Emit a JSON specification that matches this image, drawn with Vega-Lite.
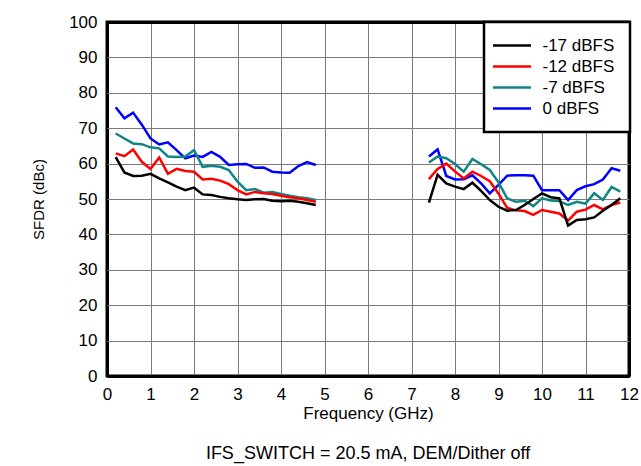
{
  "$schema": "https://vega.github.io/schema/vega-lite/v6.json",
  "autosize": "none",
  "width": 522,
  "height": 354,
  "padding": {"left": 107, "top": 22, "right": 12, "bottom": 90},
  "background": "white",
  "title": {"text": "IFS_SWITCH = 20.5 mA, DEM/Dither off", "orient": "bottom", "anchor": "middle", "font": "Liberation Sans", "fontSize": 18, "fontWeight": "normal", "color": "black", "offset": 24},
  "data": {"values": [
    {"f":0.2,"v":75.9,"s":"0 dBFS","g":"a"},{"f":0.4,"v":72.8,"s":"0 dBFS","g":"a"},{"f":0.6,"v":74.4,"s":"0 dBFS","g":"a"},{"f":0.8,"v":71.0,"s":"0 dBFS","g":"a"},{"f":1.0,"v":67.1,"s":"0 dBFS","g":"a"},{"f":1.2,"v":65.4,"s":"0 dBFS","g":"a"},{"f":1.4,"v":66.0,"s":"0 dBFS","g":"a"},{"f":1.6,"v":63.8,"s":"0 dBFS","g":"a"},{"f":1.8,"v":61.5,"s":"0 dBFS","g":"a"},{"f":2.0,"v":62.3,"s":"0 dBFS","g":"a"},{"f":2.2,"v":61.9,"s":"0 dBFS","g":"a"},{"f":2.4,"v":63.3,"s":"0 dBFS","g":"a"},{"f":2.6,"v":61.9,"s":"0 dBFS","g":"a"},{"f":2.8,"v":59.6,"s":"0 dBFS","g":"a"},{"f":3.0,"v":59.8,"s":"0 dBFS","g":"a"},{"f":3.2,"v":59.9,"s":"0 dBFS","g":"a"},{"f":3.4,"v":58.8,"s":"0 dBFS","g":"a"},{"f":3.6,"v":58.9,"s":"0 dBFS","g":"a"},{"f":3.8,"v":57.7,"s":"0 dBFS","g":"a"},{"f":4.0,"v":57.5,"s":"0 dBFS","g":"a"},{"f":4.2,"v":57.4,"s":"0 dBFS","g":"a"},{"f":4.4,"v":59.3,"s":"0 dBFS","g":"a"},{"f":4.6,"v":60.4,"s":"0 dBFS","g":"a"},{"f":4.8,"v":59.6,"s":"0 dBFS","g":"a"},
    {"f":0.2,"v":68.5,"s":"-7 dBFS","g":"a"},{"f":0.4,"v":67.1,"s":"-7 dBFS","g":"a"},{"f":0.6,"v":65.7,"s":"-7 dBFS","g":"a"},{"f":0.8,"v":65.5,"s":"-7 dBFS","g":"a"},{"f":1.0,"v":64.6,"s":"-7 dBFS","g":"a"},{"f":1.2,"v":64.3,"s":"-7 dBFS","g":"a"},{"f":1.4,"v":62.0,"s":"-7 dBFS","g":"a"},{"f":1.6,"v":61.9,"s":"-7 dBFS","g":"a"},{"f":1.8,"v":62.0,"s":"-7 dBFS","g":"a"},{"f":2.0,"v":63.8,"s":"-7 dBFS","g":"a"},{"f":2.2,"v":59.1,"s":"-7 dBFS","g":"a"},{"f":2.4,"v":59.4,"s":"-7 dBFS","g":"a"},{"f":2.6,"v":59.1,"s":"-7 dBFS","g":"a"},{"f":2.8,"v":58.2,"s":"-7 dBFS","g":"a"},{"f":3.0,"v":54.9,"s":"-7 dBFS","g":"a"},{"f":3.2,"v":52.5,"s":"-7 dBFS","g":"a"},{"f":3.4,"v":52.8,"s":"-7 dBFS","g":"a"},{"f":3.6,"v":51.8,"s":"-7 dBFS","g":"a"},{"f":3.8,"v":52.0,"s":"-7 dBFS","g":"a"},{"f":4.0,"v":51.4,"s":"-7 dBFS","g":"a"},{"f":4.2,"v":50.9,"s":"-7 dBFS","g":"a"},{"f":4.4,"v":50.5,"s":"-7 dBFS","g":"a"},{"f":4.6,"v":50.2,"s":"-7 dBFS","g":"a"},{"f":4.8,"v":49.7,"s":"-7 dBFS","g":"a"},
    {"f":0.2,"v":62.9,"s":"-12 dBFS","g":"a"},{"f":0.4,"v":62.1,"s":"-12 dBFS","g":"a"},{"f":0.6,"v":64.0,"s":"-12 dBFS","g":"a"},{"f":0.8,"v":60.5,"s":"-12 dBFS","g":"a"},{"f":1.0,"v":58.5,"s":"-12 dBFS","g":"a"},{"f":1.2,"v":61.7,"s":"-12 dBFS","g":"a"},{"f":1.4,"v":57.1,"s":"-12 dBFS","g":"a"},{"f":1.6,"v":58.5,"s":"-12 dBFS","g":"a"},{"f":1.8,"v":57.9,"s":"-12 dBFS","g":"a"},{"f":2.0,"v":57.7,"s":"-12 dBFS","g":"a"},{"f":2.2,"v":55.5,"s":"-12 dBFS","g":"a"},{"f":2.4,"v":55.7,"s":"-12 dBFS","g":"a"},{"f":2.6,"v":55.2,"s":"-12 dBFS","g":"a"},{"f":2.8,"v":54.2,"s":"-12 dBFS","g":"a"},{"f":3.0,"v":52.5,"s":"-12 dBFS","g":"a"},{"f":3.2,"v":51.3,"s":"-12 dBFS","g":"a"},{"f":3.4,"v":52.0,"s":"-12 dBFS","g":"a"},{"f":3.6,"v":51.6,"s":"-12 dBFS","g":"a"},{"f":3.8,"v":51.4,"s":"-12 dBFS","g":"a"},{"f":4.0,"v":50.9,"s":"-12 dBFS","g":"a"},{"f":4.2,"v":50.5,"s":"-12 dBFS","g":"a"},{"f":4.4,"v":50.2,"s":"-12 dBFS","g":"a"},{"f":4.6,"v":49.7,"s":"-12 dBFS","g":"a"},{"f":4.8,"v":49.2,"s":"-12 dBFS","g":"a"},
    {"f":0.2,"v":61.8,"s":"-17 dBFS","g":"a"},{"f":0.4,"v":57.5,"s":"-17 dBFS","g":"a"},{"f":0.6,"v":56.5,"s":"-17 dBFS","g":"a"},{"f":0.8,"v":56.6,"s":"-17 dBFS","g":"a"},{"f":1.0,"v":57.1,"s":"-17 dBFS","g":"a"},{"f":1.2,"v":55.8,"s":"-17 dBFS","g":"a"},{"f":1.4,"v":54.7,"s":"-17 dBFS","g":"a"},{"f":1.6,"v":53.5,"s":"-17 dBFS","g":"a"},{"f":1.8,"v":52.5,"s":"-17 dBFS","g":"a"},{"f":2.0,"v":53.2,"s":"-17 dBFS","g":"a"},{"f":2.2,"v":51.3,"s":"-17 dBFS","g":"a"},{"f":2.4,"v":51.1,"s":"-17 dBFS","g":"a"},{"f":2.6,"v":50.6,"s":"-17 dBFS","g":"a"},{"f":2.8,"v":50.2,"s":"-17 dBFS","g":"a"},{"f":3.0,"v":49.9,"s":"-17 dBFS","g":"a"},{"f":3.2,"v":49.7,"s":"-17 dBFS","g":"a"},{"f":3.4,"v":49.9,"s":"-17 dBFS","g":"a"},{"f":3.6,"v":50.0,"s":"-17 dBFS","g":"a"},{"f":3.8,"v":49.5,"s":"-17 dBFS","g":"a"},{"f":4.0,"v":49.4,"s":"-17 dBFS","g":"a"},{"f":4.2,"v":49.5,"s":"-17 dBFS","g":"a"},{"f":4.4,"v":49.2,"s":"-17 dBFS","g":"a"},{"f":4.6,"v":48.8,"s":"-17 dBFS","g":"a"},{"f":4.8,"v":48.3,"s":"-17 dBFS","g":"a"},
    {"f":7.4,"v":62.0,"s":"0 dBFS","g":"b"},{"f":7.6,"v":64.0,"s":"0 dBFS","g":"b"},{"f":7.8,"v":56.5,"s":"0 dBFS","g":"b"},{"f":8.0,"v":55.5,"s":"0 dBFS","g":"b"},{"f":8.2,"v":55.6,"s":"0 dBFS","g":"b"},{"f":8.4,"v":56.7,"s":"0 dBFS","g":"b"},{"f":8.6,"v":54.4,"s":"0 dBFS","g":"b"},{"f":8.8,"v":51.6,"s":"0 dBFS","g":"b"},{"f":9.0,"v":54.0,"s":"0 dBFS","g":"b"},{"f":9.2,"v":56.6,"s":"0 dBFS","g":"b"},{"f":9.4,"v":56.7,"s":"0 dBFS","g":"b"},{"f":9.6,"v":56.7,"s":"0 dBFS","g":"b"},{"f":9.8,"v":56.6,"s":"0 dBFS","g":"b"},{"f":10.0,"v":52.5,"s":"0 dBFS","g":"b"},{"f":10.2,"v":52.5,"s":"0 dBFS","g":"b"},{"f":10.4,"v":52.5,"s":"0 dBFS","g":"b"},{"f":10.6,"v":49.7,"s":"0 dBFS","g":"b"},{"f":10.8,"v":52.5,"s":"0 dBFS","g":"b"},{"f":11.0,"v":53.6,"s":"0 dBFS","g":"b"},{"f":11.2,"v":54.2,"s":"0 dBFS","g":"b"},{"f":11.4,"v":55.5,"s":"0 dBFS","g":"b"},{"f":11.6,"v":58.7,"s":"0 dBFS","g":"b"},{"f":11.8,"v":58.0,"s":"0 dBFS","g":"b"},
    {"f":7.4,"v":60.3,"s":"-7 dBFS","g":"b"},{"f":7.6,"v":62.0,"s":"-7 dBFS","g":"b"},{"f":7.8,"v":61.5,"s":"-7 dBFS","g":"b"},{"f":8.0,"v":59.9,"s":"-7 dBFS","g":"b"},{"f":8.2,"v":57.7,"s":"-7 dBFS","g":"b"},{"f":8.4,"v":61.3,"s":"-7 dBFS","g":"b"},{"f":8.6,"v":59.8,"s":"-7 dBFS","g":"b"},{"f":8.8,"v":58.2,"s":"-7 dBFS","g":"b"},{"f":9.0,"v":54.7,"s":"-7 dBFS","g":"b"},{"f":9.2,"v":50.2,"s":"-7 dBFS","g":"b"},{"f":9.4,"v":49.2,"s":"-7 dBFS","g":"b"},{"f":9.6,"v":49.5,"s":"-7 dBFS","g":"b"},{"f":9.8,"v":48.0,"s":"-7 dBFS","g":"b"},{"f":10.0,"v":50.2,"s":"-7 dBFS","g":"b"},{"f":10.2,"v":49.6,"s":"-7 dBFS","g":"b"},{"f":10.4,"v":49.4,"s":"-7 dBFS","g":"b"},{"f":10.6,"v":48.3,"s":"-7 dBFS","g":"b"},{"f":10.8,"v":49.2,"s":"-7 dBFS","g":"b"},{"f":11.0,"v":48.7,"s":"-7 dBFS","g":"b"},{"f":11.2,"v":51.6,"s":"-7 dBFS","g":"b"},{"f":11.4,"v":49.7,"s":"-7 dBFS","g":"b"},{"f":11.6,"v":53.4,"s":"-7 dBFS","g":"b"},{"f":11.8,"v":52.1,"s":"-7 dBFS","g":"b"},
    {"f":7.4,"v":55.6,"s":"-12 dBFS","g":"b"},{"f":7.6,"v":58.5,"s":"-12 dBFS","g":"b"},{"f":7.8,"v":60.0,"s":"-12 dBFS","g":"b"},{"f":8.0,"v":57.8,"s":"-12 dBFS","g":"b"},{"f":8.2,"v":55.8,"s":"-12 dBFS","g":"b"},{"f":8.4,"v":57.7,"s":"-12 dBFS","g":"b"},{"f":8.6,"v":56.5,"s":"-12 dBFS","g":"b"},{"f":8.8,"v":55.0,"s":"-12 dBFS","g":"b"},{"f":9.0,"v":51.5,"s":"-12 dBFS","g":"b"},{"f":9.2,"v":47.5,"s":"-12 dBFS","g":"b"},{"f":9.4,"v":46.8,"s":"-12 dBFS","g":"b"},{"f":9.6,"v":46.6,"s":"-12 dBFS","g":"b"},{"f":9.8,"v":45.5,"s":"-12 dBFS","g":"b"},{"f":10.0,"v":46.9,"s":"-12 dBFS","g":"b"},{"f":10.2,"v":46.4,"s":"-12 dBFS","g":"b"},{"f":10.4,"v":45.9,"s":"-12 dBFS","g":"b"},{"f":10.6,"v":43.9,"s":"-12 dBFS","g":"b"},{"f":10.8,"v":46.4,"s":"-12 dBFS","g":"b"},{"f":11.0,"v":47.0,"s":"-12 dBFS","g":"b"},{"f":11.2,"v":48.3,"s":"-12 dBFS","g":"b"},{"f":11.4,"v":47.1,"s":"-12 dBFS","g":"b"},{"f":11.6,"v":48.3,"s":"-12 dBFS","g":"b"},{"f":11.8,"v":49.0,"s":"-12 dBFS","g":"b"},
    {"f":7.4,"v":49.0,"s":"-17 dBFS","g":"b"},{"f":7.6,"v":56.8,"s":"-17 dBFS","g":"b"},{"f":7.8,"v":54.4,"s":"-17 dBFS","g":"b"},{"f":8.0,"v":53.5,"s":"-17 dBFS","g":"b"},{"f":8.2,"v":52.8,"s":"-17 dBFS","g":"b"},{"f":8.4,"v":54.6,"s":"-17 dBFS","g":"b"},{"f":8.6,"v":52.3,"s":"-17 dBFS","g":"b"},{"f":8.8,"v":49.7,"s":"-17 dBFS","g":"b"},{"f":9.0,"v":47.8,"s":"-17 dBFS","g":"b"},{"f":9.2,"v":46.7,"s":"-17 dBFS","g":"b"},{"f":9.4,"v":46.9,"s":"-17 dBFS","g":"b"},{"f":9.6,"v":48.3,"s":"-17 dBFS","g":"b"},{"f":9.8,"v":50.0,"s":"-17 dBFS","g":"b"},{"f":10.0,"v":51.6,"s":"-17 dBFS","g":"b"},{"f":10.2,"v":50.5,"s":"-17 dBFS","g":"b"},{"f":10.4,"v":50.2,"s":"-17 dBFS","g":"b"},{"f":10.6,"v":42.5,"s":"-17 dBFS","g":"b"},{"f":10.8,"v":44.1,"s":"-17 dBFS","g":"b"},{"f":11.0,"v":44.3,"s":"-17 dBFS","g":"b"},{"f":11.2,"v":44.8,"s":"-17 dBFS","g":"b"},{"f":11.4,"v":46.7,"s":"-17 dBFS","g":"b"},{"f":11.6,"v":48.3,"s":"-17 dBFS","g":"b"},{"f":11.8,"v":50.2,"s":"-17 dBFS","g":"b"}
  ]},
  "mark": {"type": "line", "strokeWidth": 2.5, "strokeJoin": "miter"},
  "encoding": {
    "x": {"field": "f", "type": "quantitative", "scale": {"domain": [0, 12], "nice": false},
      "axis": {"title": "Frequency (GHz)", "values": [0,1,2,3,4,5,6,7,8,9,10,11,12], "labelOverlap": false, "labelFlush": false, "labelPadding": 10, "titlePadding": 3, "titleFontSize": 17,
        "gridColor": {"condition": {"test": "datum.value == 0 || datum.value == 12", "value": "black"}, "value": "#7a7a7a"},
        "gridWidth": {"condition": {"test": "datum.value == 0 || datum.value == 12", "value": 3}, "value": 1}}},
    "y": {"field": "v", "type": "quantitative", "scale": {"domain": [0, 100], "nice": false},
      "axis": {"title": "SFDR (dBc)", "values": [0,10,20,30,40,50,60,70,80,90,100], "labelOverlap": false, "labelFlush": false, "labelPadding": 10, "titlePadding": 22, "titleFontSize": 15,
        "gridColor": {"condition": {"test": "datum.value == 0 || datum.value == 100", "value": "black"}, "value": "#7a7a7a"},
        "gridWidth": {"condition": {"test": "datum.value == 0 || datum.value == 100", "value": 3}, "value": 1}}},
    "color": {"field": "s", "type": "nominal",
      "scale": {"domain": ["-17 dBFS", "-12 dBFS", "-7 dBFS", "0 dBFS"], "range": ["#000000", "#ff0000", "#108585", "#0000ff"]},
      "legend": {"title": null, "orient": "none", "legendX": 377, "legendY": 0}},
    "detail": {"field": "g", "type": "nominal"},
    "order": {"field": "f", "type": "quantitative"}
  },
  "config": {
    "font": "Liberation Sans",
    "view": {"stroke": "black", "strokeWidth": 3},
    "axis": {
      "domain": false, "ticks": false, "grid": true, "gridOpacity": 1,
      "labelFont": "Liberation Sans", "labelFontSize": 17, "labelColor": "black",
      "titleFont": "Liberation Sans", "titleFontWeight": "normal", "titleColor": "black"
    },
    "legend": {
      "symbolType": "M-3.8,0H3.8", "symbolSize": 100, "symbolStrokeWidth": 2.5, "symbolOffset": 4.5,
      "labelFont": "Liberation Sans", "labelFontSize": 17, "labelColor": "black",
      "strokeColor": "black", "strokeWidth": 2.5, "fillColor": "white",
      "padding": 15, "rowPadding": 3, "labelOffset": 22, "cornerRadius": 0
    }
  }
}
